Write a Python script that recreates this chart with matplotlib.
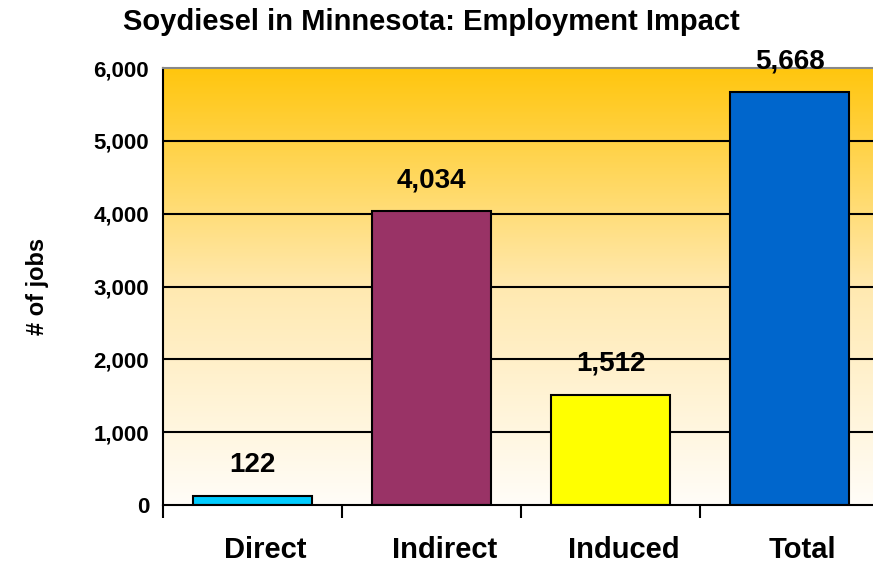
import matplotlib.pyplot as plt
import numpy as np
from matplotlib.colors import LinearSegmentedColormap
from matplotlib.transforms import ScaledTranslation

plt.rcParams['font.family'] = ['Liberation Sans', 'DejaVu Sans']
plt.rcParams['font.weight'] = 'bold'

categories = ['Direct', 'Indirect', 'Induced', 'Total']
jobs = [122, 4034, 1512, 5668]
labels = ['122', '4,034', '1,512', '5,668']
bar_colors = ['#00CCFF', '#993366', '#FFFF00', '#0066CC']
yticks = [0, 1000, 2000, 3000, 4000, 5000, 6000]

fig = plt.figure(figsize=(8.73, 5.72), dpi=100)
ax = fig.add_axes([163/873, 67/572, 716/873, 437/572])

x = np.arange(len(categories))
ax.set_xlim(-0.5, len(categories) - 0.5)
ax.set_ylim(0, 6000)

# gradient background: orange at top fading to white
cmap = LinearSegmentedColormap.from_list('bg', ['#FFFDF8', '#FFE9B0', '#FFC60E'])
grad = np.linspace(0, 1, 256).reshape(-1, 1)
ax.imshow(grad, cmap=cmap, aspect='auto', origin='lower',
          extent=[-0.5, len(categories) - 0.5, 0, 6000], zorder=0)

for yv in yticks[1:-1]:
    ax.axhline(yv, color='black', lw=1.5, zorder=1)

ax.bar(x, jobs, width=0.66, color=bar_colors, edgecolor='black', lw=1.5, zorder=2)

for xi, v, t in zip(x, jobs, labels):
    ax.annotate(t, (xi, v), xytext=(0, 13), textcoords='offset points',
                ha='center', va='bottom', fontsize=20, fontweight='bold')

ax.set_yticks(yticks)
ax.set_yticklabels([f'{v:,}' for v in yticks], fontsize=16)
ax.tick_params(axis='y', length=0, pad=10)

ax.set_xticks(np.arange(len(categories) + 1) - 0.5)
ax.set_xticklabels([])
ax.tick_params(axis='x', which='major', length=9, width=1.5, direction='out')
ax.set_xticks(x, minor=True)
ax.set_xticklabels(categories, minor=True, fontsize=21)
ax.tick_params(axis='x', which='minor', length=0, pad=22)
# category labels sit a little right of the bar centres in the original
shift = ScaledTranslation(13/100, 0, fig.dpi_scale_trans)
for lab in ax.get_xticklabels(minor=True):
    lab.set_transform(lab.get_transform() + shift)

ax.spines['left'].set_linewidth(1.5)
ax.spines['bottom'].set_linewidth(1.5)
ax.spines['top'].set_color('#888888')
ax.spines['top'].set_linewidth(1.5)
ax.spines['right'].set_visible(False)

ax.set_ylabel('# of jobs', fontsize=17, fontweight='bold', labelpad=32)
fig.text(431/873, 1 - 22/572, 'Soydiesel in Minnesota: Employment Impact',
         ha='center', va='center', fontsize=21, fontweight='bold')

fig.savefig('out.png', dpi=100)
